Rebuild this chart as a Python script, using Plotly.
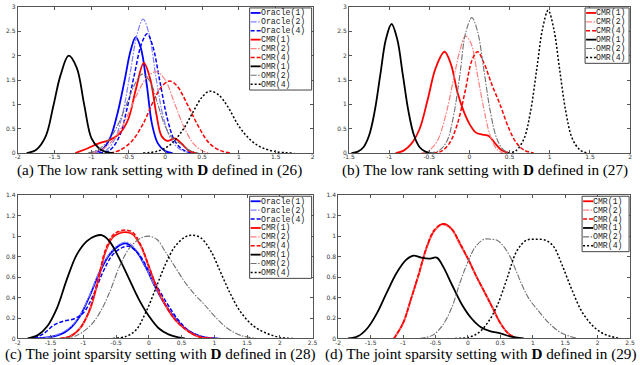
import plotly.graph_objects as go
from plotly.subplots import make_subplots

# ---- (a) low rank setting, D from (26)
a_oracle1_x = [-1.0, -0.85, -0.75, -0.65, -0.55, -0.47, -0.40, -0.33, -0.25, -0.18, -0.10, 0.0, 0.1]
a_oracle1_y = [0.0, 0.08, 0.3, 0.8, 1.5, 2.1, 2.38, 2.15, 1.4, 0.6, 0.2, 0.04, 0.0]
a_oracle2_x = [-0.95, -0.8, -0.68, -0.58, -0.48, -0.38, -0.30, -0.22, -0.12, -0.02, 0.08, 0.2, 0.35]
a_oracle2_y = [0.0, 0.06, 0.3, 0.8, 1.6, 2.45, 2.75, 2.45, 1.5, 0.7, 0.28, 0.08, 0.0]
a_oracle4_x = [-0.9, -0.75, -0.62, -0.52, -0.42, -0.32, -0.245, -0.17, -0.07, 0.03, 0.13, 0.25, 0.4]
a_oracle4_y = [0.0, 0.06, 0.35, 0.9, 1.6, 2.25, 2.45, 2.2, 1.45, 0.7, 0.25, 0.06, 0.0]
a_cmr1_x = [-1.22, -1.05, -0.9, -0.75, -0.62, -0.5, -0.4, -0.29, -0.2, -0.12, -0.05, 0.03, 0.13, 0.22, 0.32, 0.42]
a_cmr1_y = [0.0, 0.1, 0.2, 0.27, 0.4, 0.7, 1.3, 1.85, 1.5, 0.8, 0.35, 0.25, 0.3, 0.2, 0.05, 0.0]
a_cmr2_x = [-1.0, -0.85, -0.7, -0.55, -0.4, -0.25, -0.12, 0.0, 0.12, 0.25, 0.38, 0.5, 0.6]
a_cmr2_y = [0.0, 0.08, 0.28, 0.65, 1.15, 1.55, 1.67, 1.5, 1.05, 0.55, 0.2, 0.05, 0.0]
a_cmr4_x = [-0.75, -0.6, -0.45, -0.3, -0.15, -0.04, 0.06, 0.16, 0.3, 0.45, 0.6, 0.75, 0.9]
a_cmr4_y = [0.0, 0.07, 0.25, 0.6, 1.1, 1.38, 1.48, 1.38, 1.0, 0.55, 0.2, 0.05, 0.0]
a_omr1_x = [-1.88, -1.75, -1.62, -1.52, -1.42, -1.31, -1.2, -1.1, -1.0, -0.9, -0.8, -0.7]
a_omr1_y = [0.0, 0.07, 0.35, 0.95, 1.6, 2.0, 1.75, 1.0, 0.3, 0.1, 0.02, 0.0]
a_omr2_x = [-1.05, -0.9, -0.75, -0.62, -0.5, -0.4, -0.31, -0.2, -0.1, 0.0, 0.1, 0.2, 0.3, 0.45]
a_omr2_y = [0.0, 0.08, 0.3, 0.65, 1.1, 1.45, 1.62, 1.45, 1.0, 0.55, 0.3, 0.2, 0.08, 0.0]
a_omr4_x = [-0.3, -0.1, 0.05, 0.15, 0.25, 0.38, 0.5, 0.6, 0.72, 0.85, 1.0, 1.15, 1.3, 1.5, 1.75]
a_omr4_y = [0.0, 0.04, 0.15, 0.3, 0.5, 0.85, 1.15, 1.27, 1.2, 0.95, 0.55, 0.28, 0.12, 0.03, 0.0]

# ---- (b) low rank setting, D from (27)
b_cmr1_x = [-0.92, -0.82, -0.72, -0.62, -0.52, -0.42, -0.31, -0.23, -0.15, -0.07, 0.0, 0.08, 0.16, 0.24, 0.32, 0.4, 0.5]
b_cmr1_y = [0.0, 0.05, 0.2, 0.5, 1.1, 1.75, 2.08, 1.82, 1.25, 0.85, 0.6, 0.42, 0.38, 0.35, 0.2, 0.06, 0.0]
b_cmr2_x = [-0.6, -0.5, -0.4, -0.3, -0.2, -0.12, -0.05, 0.02, 0.1, 0.18, 0.26, 0.34, 0.42]
b_cmr2_y = [0.0, 0.06, 0.25, 0.75, 1.5, 2.1, 2.4, 2.25, 1.6, 0.9, 0.35, 0.08, 0.0]
b_cmr4_x = [-0.45, -0.35, -0.25, -0.15, -0.05, 0.03, 0.1, 0.18, 0.28, 0.38, 0.48, 0.58, 0.68, 0.8]
b_cmr4_y = [0.0, 0.04, 0.2, 0.6, 1.3, 1.9, 2.08, 1.85, 1.4, 1.0, 0.55, 0.22, 0.06, 0.0]
b_omr1_x = [-1.47, -1.39, -1.32, -1.25, -1.18, -1.11, -1.04, -0.97, -0.9, -0.83, -0.76, -0.69, -0.62, -0.55, -0.47]
b_omr1_y = [0.0, 0.03, 0.12, 0.36, 0.86, 1.61, 2.34, 2.65, 2.34, 1.61, 0.86, 0.36, 0.12, 0.03, 0.0]
b_omr2_x = [-0.5, -0.38, -0.28, -0.2, -0.12, -0.05, 0.03, 0.1, 0.18, 0.26, 0.34, 0.42, 0.5]
b_omr2_y = [0.0, 0.05, 0.25, 0.75, 1.6, 2.45, 2.78, 2.5, 1.7, 0.85, 0.3, 0.07, 0.0]
b_omr4_x = [0.48, 0.58, 0.68, 0.76, 0.84, 0.91, 0.98, 1.05, 1.12, 1.2, 1.28, 1.38, 1.48]
b_omr4_y = [0.0, 0.05, 0.3, 0.85, 1.75, 2.55, 2.93, 2.55, 1.75, 0.85, 0.3, 0.06, 0.0]

# ---- (c) joint sparsity setting, D from (28)
c_oracle1_x = [-1.75, -1.55, -1.35, -1.2, -1.05, -0.9, -0.75, -0.6, -0.45, -0.35, -0.2, -0.05, 0.1, 0.25, 0.4, 0.55, 0.7, 0.85, 1.05]
c_oracle1_y = [0.0, 0.01, 0.04, 0.1, 0.22, 0.42, 0.65, 0.82, 0.91, 0.93, 0.86, 0.7, 0.5, 0.33, 0.2, 0.1, 0.04, 0.01, 0.0]
c_oracle2_x = [-1.75, -1.55, -1.35, -1.2, -1.05, -0.9, -0.75, -0.6, -0.45, -0.33, -0.2, -0.05, 0.1, 0.25, 0.4, 0.55, 0.7, 0.85, 1.1]
c_oracle2_y = [0.0, 0.01, 0.05, 0.11, 0.23, 0.43, 0.66, 0.83, 0.92, 0.94, 0.87, 0.7, 0.5, 0.33, 0.2, 0.1, 0.04, 0.01, 0.0]
c_oracle4_x = [-1.75, -1.6, -1.45, -1.3, -1.15, -1.0, -0.85, -0.7, -0.55, -0.4, -0.3, -0.15, 0.0, 0.15, 0.3, 0.45, 0.6, 0.8, 1.0]
c_oracle4_y = [0.0, 0.05, 0.13, 0.17, 0.19, 0.25, 0.42, 0.65, 0.82, 0.89, 0.9, 0.82, 0.66, 0.48, 0.32, 0.18, 0.08, 0.02, 0.0]
c_cmr1_x = [-1.35, -1.2, -1.05, -0.9, -0.78, -0.66, -0.55, -0.45, -0.35, -0.25, -0.12, 0.0, 0.12, 0.25, 0.38, 0.5, 0.65, 0.8, 0.97]
c_cmr1_y = [0.0, 0.02, 0.1, 0.28, 0.55, 0.85, 0.99, 1.03, 1.04, 1.02, 0.9, 0.7, 0.5, 0.33, 0.2, 0.12, 0.05, 0.01, 0.0]
c_cmr2_x = [-1.35, -1.2, -1.05, -0.9, -0.78, -0.66, -0.55, -0.45, -0.35, -0.25, -0.12, 0.0, 0.12, 0.25, 0.38, 0.5, 0.65, 0.8, 0.97]
c_cmr2_y = [0.0, 0.02, 0.1, 0.28, 0.56, 0.86, 1.0, 1.04, 1.05, 1.03, 0.9, 0.7, 0.5, 0.33, 0.2, 0.12, 0.05, 0.01, 0.0]
c_cmr4_x = [-1.35, -1.2, -1.05, -0.9, -0.78, -0.66, -0.55, -0.45, -0.35, -0.25, -0.12, 0.0, 0.12, 0.25, 0.38, 0.5, 0.65, 0.8, 0.97]
c_cmr4_y = [0.0, 0.02, 0.1, 0.29, 0.57, 0.87, 1.01, 1.05, 1.06, 1.04, 0.91, 0.71, 0.5, 0.33, 0.2, 0.12, 0.05, 0.01, 0.0]
c_omr1_x = [-1.85, -1.7, -1.55, -1.4, -1.25, -1.1, -0.95, -0.82, -0.72, -0.6, -0.45, -0.3, -0.15, 0.0, 0.15, 0.3, 0.45, 0.55]
c_omr1_y = [0.0, 0.03, 0.12, 0.3, 0.58, 0.82, 0.95, 1.0, 1.01, 0.95, 0.78, 0.58, 0.38, 0.22, 0.1, 0.04, 0.01, 0.0]
c_omr2_x = [-1.3, -1.1, -0.9, -0.75, -0.6, -0.45, -0.3, -0.15, -0.02, 0.12, 0.25, 0.4, 0.55, 0.7, 0.85, 1.0, 1.2, 1.4, 1.65]
c_omr2_y = [0.0, 0.03, 0.12, 0.25, 0.45, 0.7, 0.88, 0.97, 1.0, 0.97, 0.85, 0.7, 0.55, 0.43, 0.33, 0.22, 0.1, 0.03, 0.0]
c_omr4_x = [-0.55, -0.35, -0.2, -0.05, 0.1, 0.25, 0.4, 0.55, 0.67, 0.8, 0.95, 1.1, 1.25, 1.4, 1.6, 1.8, 2.0, 2.2]
c_omr4_y = [0.0, 0.02, 0.08, 0.25, 0.48, 0.72, 0.9, 0.99, 1.01, 0.98, 0.85, 0.64, 0.43, 0.26, 0.12, 0.05, 0.01, 0.0]

# ---- (d) joint sparsity setting, D from (29)
d_cmr1_x = [-1.14, -1.0, -0.88, -0.76, -0.64, -0.52, -0.38, -0.25, -0.12, 0.0, 0.12, 0.25, 0.38, 0.5, 0.62, 0.75]
d_cmr1_y = [0.0, 0.15, 0.38, 0.62, 0.88, 1.05, 1.12, 1.07, 0.92, 0.78, 0.62, 0.46, 0.3, 0.15, 0.05, 0.0]
d_cmr2_x = [-1.14, -1.0, -0.88, -0.76, -0.64, -0.52, -0.38, -0.25, -0.12, 0.0, 0.12, 0.25, 0.38, 0.5, 0.62, 0.75]
d_cmr2_y = [0.0, 0.15, 0.38, 0.62, 0.88, 1.05, 1.11, 1.06, 0.92, 0.78, 0.62, 0.46, 0.3, 0.15, 0.05, 0.0]
d_cmr4_x = [-1.14, -1.0, -0.88, -0.76, -0.64, -0.52, -0.38, -0.25, -0.12, 0.0, 0.12, 0.25, 0.38, 0.5, 0.62, 0.75]
d_cmr4_y = [0.0, 0.15, 0.38, 0.63, 0.89, 1.06, 1.12, 1.07, 0.93, 0.78, 0.62, 0.46, 0.3, 0.15, 0.05, 0.0]
d_omr1_x = [-1.85, -1.7, -1.55, -1.4, -1.25, -1.1, -0.95, -0.84, -0.72, -0.6, -0.48, -0.38, -0.25, -0.1, 0.05, 0.2, 0.35, 0.5, 0.65, 0.86]
d_omr1_y = [0.0, 0.02, 0.1, 0.25, 0.45, 0.64, 0.77, 0.81, 0.79, 0.78, 0.79, 0.7, 0.53, 0.34, 0.2, 0.11, 0.07, 0.05, 0.02, 0.0]
d_omr2_x = [-0.75, -0.55, -0.4, -0.25, -0.12, 0.0, 0.12, 0.25, 0.35, 0.45, 0.55, 0.65, 0.75, 0.85, 0.95, 1.1, 1.25, 1.45, 1.7]
d_omr2_y = [0.0, 0.03, 0.12, 0.3, 0.55, 0.75, 0.9, 0.97, 0.97, 0.96, 0.9, 0.8, 0.65, 0.5, 0.38, 0.26, 0.15, 0.05, 0.0]
d_omr4_x = [-0.2, 0.0, 0.15, 0.3, 0.45, 0.6, 0.75, 0.9, 1.05, 1.2, 1.32, 1.45, 1.6, 1.75, 1.9, 2.05, 2.2, 2.35]
d_omr4_y = [0.0, 0.01, 0.05, 0.15, 0.32, 0.58, 0.85, 0.96, 0.97, 0.96, 0.9, 0.72, 0.48, 0.27, 0.14, 0.06, 0.02, 0.0]

# ticks
a_xticks = [-2, -1.5, -1, -0.5, 0, 0.5, 1, 1.5, 2]
b_xticks = [-1.5, -1, -0.5, 0, 0.5, 1, 1.5, 2]
cd_xticks = [-2, -1.5, -1, -0.5, 0, 0.5, 1, 1.5, 2, 2.5]
top_yticks = [0, 0.5, 1, 1.5, 2, 2.5, 3]
bottom_yticks = [0, 0.2, 0.4, 0.6, 0.8, 1, 1.2, 1.4]

captions = [
    "(a) The low rank setting with <b>D</b> defined in (26)",
    "(b) The low rank setting with <b>D</b> defined in (27)",
    "(c) The joint sparsity setting with <b>D</b> defined in (28)",
    "(d) The joint sparsity setting with <b>D</b> defined in (29)",
]

STYLE = {
    "Oracle(1)": dict(color="#0000ff", width=1.8, dash="solid"),
    "Oracle(2)": dict(color="#8080ff", width=1.2, dash="6px,1.5px,1.5px,1.5px"),
    "Oracle(4)": dict(color="#0000ff", width=1.5, dash="4px,2px"),
    "CMR(1)": dict(color="#ff0000", width=1.8, dash="solid"),
    "CMR(2)": dict(color="#ff8080", width=1.2, dash="6px,1.5px,1.5px,1.5px"),
    "CMR(4)": dict(color="#ff0000", width=1.5, dash="4px,2px"),
    "OMR(1)": dict(color="#000000", width=1.8, dash="solid"),
    "OMR(2)": dict(color="#707070", width=1.1, dash="6px,1.5px,1.5px,1.5px"),
    "OMR(4)": dict(color="#000000", width=1.5, dash="2px,2px"),
}

panels = [
    dict(row=1, col=1, xr=[-2, 2], yr=[0, 3], xt=a_xticks, yt=top_yticks,
         dom_x=[12, 312], dom_y=[3, 152], cap_x=156, cap_y=169, box_w=62,
         curves=[("Oracle(1)", a_oracle1_x, a_oracle1_y), ("Oracle(2)", a_oracle2_x, a_oracle2_y),
                 ("Oracle(4)", a_oracle4_x, a_oracle4_y), ("CMR(1)", a_cmr1_x, a_cmr1_y),
                 ("CMR(2)", a_cmr2_x, a_cmr2_y), ("CMR(4)", a_cmr4_x, a_cmr4_y),
                 ("OMR(1)", a_omr1_x, a_omr1_y), ("OMR(2)", a_omr2_x, a_omr2_y),
                 ("OMR(4)", a_omr4_x, a_omr4_y)]),
    dict(row=1, col=2, xr=[-1.5, 2], yr=[0, 3], xt=b_xticks, yt=top_yticks,
         dom_x=[349, 635], dom_y=[3, 152], cap_x=487, cap_y=169, box_w=44,
         curves=[("CMR(1)", b_cmr1_x, b_cmr1_y), ("CMR(2)", b_cmr2_x, b_cmr2_y),
                 ("CMR(4)", b_cmr4_x, b_cmr4_y), ("OMR(1)", b_omr1_x, b_omr1_y),
                 ("OMR(2)", b_omr2_x, b_omr2_y), ("OMR(4)", b_omr4_x, b_omr4_y)]),
    dict(row=2, col=1, xr=[-2, 2.5], yr=[0, 1.4], xt=cd_xticks, yt=bottom_yticks,
         dom_x=[12, 312], dom_y=[195, 341], cap_x=157, cap_y=357, box_w=62,
         curves=[("Oracle(1)", c_oracle1_x, c_oracle1_y), ("Oracle(2)", c_oracle2_x, c_oracle2_y),
                 ("Oracle(4)", c_oracle4_x, c_oracle4_y), ("CMR(1)", c_cmr1_x, c_cmr1_y),
                 ("CMR(2)", c_cmr2_x, c_cmr2_y), ("CMR(4)", c_cmr4_x, c_cmr4_y),
                 ("OMR(1)", c_omr1_x, c_omr1_y), ("OMR(2)", c_omr2_x, c_omr2_y),
                 ("OMR(4)", c_omr4_x, c_omr4_y)]),
    dict(row=2, col=2, xr=[-2, 2.5], yr=[0, 1.4], xt=cd_xticks, yt=bottom_yticks,
         dom_x=[338, 635], dom_y=[195, 341], cap_x=483, cap_y=357, box_w=47,
         curves=[("CMR(1)", d_cmr1_x, d_cmr1_y), ("CMR(2)", d_cmr2_x, d_cmr2_y),
                 ("CMR(4)", d_cmr4_x, d_cmr4_y), ("OMR(1)", d_omr1_x, d_omr1_y),
                 ("OMR(2)", d_omr2_x, d_omr2_y), ("OMR(4)", d_omr4_x, d_omr4_y)]),
]

W, H = 640, 365
ROW_H = 8.9

fig = make_subplots(rows=2, cols=2)
shapes, annotations = [], []

for i, p in enumerate(panels):
    for name, xs, ys in p["curves"]:
        st = STYLE[name]
        fig.add_trace(
            go.Scatter(x=xs, y=ys, mode="lines", name=name, showlegend=False,
                       line=dict(color=st["color"], width=st["width"], dash=st["dash"],
                                 shape="spline", smoothing=1.0)),
            row=p["row"], col=p["col"],
        )

    n = "" if i == 0 else str(i + 1)
    fig.update_layout({
        f"xaxis{n}": dict(domain=[p["dom_x"][0] / W, p["dom_x"][1] / W], range=p["xr"],
                          tickvals=p["xt"], ticktext=[f"{v:g}" for v in p["xt"]]),
        f"yaxis{n}": dict(domain=[1 - p["dom_y"][1] / H, 1 - p["dom_y"][0] / H], range=p["yr"],
                          tickvals=p["yt"], ticktext=[f"{v:g}" for v in p["yt"]]),
    })

    # hand-drawn legend box (plotly legend rows can't get this compact)
    xr, yr = f"x{n} domain", f"y{n} domain"
    k = len(p["curves"])
    bw = p["box_w"]
    left = -bw - 1
    shapes.append(dict(type="rect", xref=xr, yref=yr, xsizemode="pixel", ysizemode="pixel",
                       xanchor=1, yanchor=1, x0=left, x1=-1, y0=-1, y1=-(ROW_H * k + 3),
                       line=dict(color="#444444", width=1), fillcolor="white", layer="above"))
    for j, (name, _, _) in enumerate(p["curves"]):
        st = STYLE[name]
        cy = -(6 + ROW_H * j)
        shapes.append(dict(type="line", xref=xr, yref=yr, xsizemode="pixel", ysizemode="pixel",
                           xanchor=1, yanchor=1, x0=left + 1, x1=left + 11, y0=cy, y1=cy,
                           line=dict(color=st["color"], width=st["width"], dash=st["dash"]),
                           layer="above"))
        annotations.append(dict(xref=xr, yref=yr, x=1, y=1, xshift=left + 10, yshift=cy,
                                xanchor="left", yanchor="middle", showarrow=False, text=name,
                                borderpad=0,
                                font=dict(family="Liberation Mono, Courier New, monospace",
                                          size=8.2, color="#222222")))

    annotations.append(dict(xref="paper", yref="paper", x=p["cap_x"] / W, y=1 - p["cap_y"] / H,
                            xanchor="center", yanchor="middle", showarrow=False,
                            text=captions[i], borderpad=0,
                            font=dict(family="Liberation Serif, DejaVu Serif, serif",
                                      size=15.2, color="#000000")))

fig.update_xaxes(showline=True, mirror="ticks", linecolor="#555555", linewidth=1,
                 ticks="inside", ticklen=3, tickcolor="#555555", showgrid=False,
                 zeroline=False, ticklabelstandoff=-2,
                 tickfont=dict(size=6, color="#333333", family="DejaVu Sans"))
fig.update_yaxes(showline=True, mirror="ticks", linecolor="#555555", linewidth=1,
                 ticks="inside", ticklen=3, tickcolor="#555555", showgrid=False,
                 zeroline=False, tickfont=dict(size=6, color="#333333", family="DejaVu Sans"))

fig.update_layout(
    width=W, height=H,
    margin=dict(l=0, r=0, t=0, b=0),
    paper_bgcolor="white", plot_bgcolor="white",
    showlegend=False,
    shapes=shapes, annotations=annotations,
)

# browser default body margin would push the figure 8px down/right
fig.write_html("out.html", config={"displayModeBar": False},
               post_script="document.body.style.margin='0';")
